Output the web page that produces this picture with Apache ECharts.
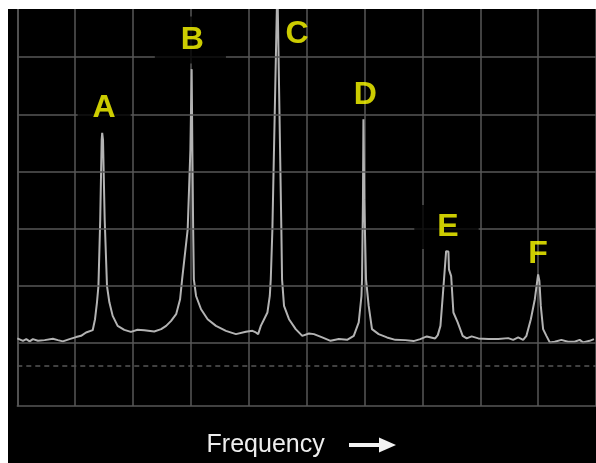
<!DOCTYPE html>
<html>
<head>
<meta charset="utf-8">
<script src="https://cdn.jsdelivr.net/npm/echarts@6/dist/echarts.min.js"></script>
<style>
html,body{margin:0;padding:0;background:#000;}
#chart{width:596px;height:463px;}
</style>
</head>
<body>
<div id="chart"></div>
<script>
// Frequency (divisions x10) and amplitude (divisions x10 above reference line)
const freq = [0,0.98,1.55,2.13,2.70,3.56,4.72,6.15,7.01,7.87,9.02,10.16,11.02,11.88,13.03,13.43,13.77,14.02,14.33,14.58,14.67,14.81,15.10,15.50,15.91,16.48,17.34,18.49,19.63,20.78,21.94,23.66,24.86,25.72,26.58,27.45,28.13,28.48,29.44,29.91,30.13,30.25,30.39,30.51,30.89,31.75,32.89,34.33,36.05,37.78,39.50,40.63,41.22,41.62,42.08,42.65,43.22,43.63,43.80,44.08,44.94,45.63,45.75,46.09,46.95,48.11,49.24,50.40,51.26,52.69,54.13,55.56,56.99,58.14,59.00,59.47,59.57,59.73,59.81,59.95,60.26,60.72,61.29,62.44,63.88,65.32,67.05,68.47,69.63,70.76,72.21,72.66,73.12,73.52,74.10,74.21,74.50,74.59,74.97,75.36,76.10,76.96,77.65,78.51,79.67,81.39,83.11,84.83,85.69,86.55,87.41,87.98,88.74,89.43,89.88,90.00,90.22,90.46,90.86,91.43,92.01,92.87,94.01,95.16,96.31,97.18,97.75,98.90,99.64];
const amp = [0.82,0.40,0.70,0.30,0.70,0.40,0.52,0.75,0.52,0.30,0.70,1.05,1.27,1.86,2.26,4.18,7.14,9.98,21.60,35.54,36.76,35.54,21.60,9.98,7.14,4.76,3.01,2.32,1.97,2.32,2.26,2.04,2.44,3.01,3.89,5.05,7.67,11.15,19.86,33.80,47.91,33.80,19.86,11.15,8.24,5.92,4.18,3.01,2.14,1.57,1.97,2.14,1.86,1.57,3.01,4.18,5.35,8.24,11.15,19.86,63.0,19.86,11.15,6.50,4.18,2.44,1.27,1.69,1.57,0.99,0.40,0.70,0.57,1.27,3.61,8.24,11.15,25.09,39.15,25.09,11.15,6.50,2.44,1.57,0.99,0.57,0.52,0.35,0.70,1.17,0.82,1.39,3.01,8.24,16.08,16.20,16.03,12.89,11.72,5.35,3.61,1.27,0.82,1.17,0.82,0.70,0.70,0.87,0.57,0.99,0.57,1.27,4.18,7.67,11.15,12.02,10.85,6.50,2.44,1.27,0.12,0.23,0.57,0.23,0.23,0.57,0.12,0.40,0.70];

const peakNames = ['A','B','C','D','E','F'];
const peakLabelX = [15.01,29.91,48.33,60.12,74.16,89.98];
const peakLabelY = [41.0,53.0,54.1,43.3,20.3,15.5];

const gridLevels = [0,10,20,30,40,50,60];
const dashedLevel = -4;

const gridColor = '#575757';
const labelPads = {
  A:[4,15,4,15],
  B:[4,22,11,26],
  E:[8,20,4,23]
};

const lineData = freq.map((f,i)=>[f,amp[i]]);
const labelData = peakNames.map((n,i)=>{
  const item = {name:n, value:[peakLabelX[i],peakLabelY[i]]};
  if (labelPads[n]) {
    item.label = {backgroundColor:'#000', padding:labelPads[n]};
  }
  return item;
});

const chart = echarts.init(document.getElementById('chart'));
chart.setOption({
  animation:false,
  backgroundColor:'#000',
  grid:{left:17.3, top:0, width:580.8, height:407},
  xAxis:{
    type:'value', min:0, max:100, interval:10,
    axisLabel:{show:false}, axisTick:{show:false},
    axisLine:{show:true, onZero:false, lineStyle:{color:gridColor, width:1.5}},
    splitLine:{show:true, lineStyle:{color:gridColor, width:1.5}},
    name:'Frequency', nameLocation:'middle', nameGap:27,
    nameTextStyle:{color:'#eeeeee', fontSize:25, fontFamily:'Liberation Sans', padding:[0,82,0,0]}
  },
  yAxis:{
    type:'value', min:-11, max:60,
    axisLabel:{show:false}, axisTick:{show:false},
    axisLine:{show:true, lineStyle:{color:gridColor, width:1.5}},
    splitLine:{show:false}
  },
  graphic:[
    {type:'line', shape:{x1:349, y1:445, x2:382, y2:445}, style:{stroke:'#f2f2f2', lineWidth:4}},
    {type:'polygon', shape:{points:[[379,437.5],[396,445],[379,452.5]]}, style:{fill:'#f2f2f2'}},
    {type:'rect', z:100, shape:{x:0,y:0,width:596,height:9}, style:{fill:'#fff'}},
    {type:'rect', z:100, shape:{x:0,y:0,width:8,height:463}, style:{fill:'#fff'}}
  ],
  series:[
    {
      type:'line', data:[], z:1, silent:true,
      markLine:{
        silent:true, symbol:'none', animation:false,
        label:{show:false},
        data:gridLevels.map(v=>({yAxis:v, lineStyle:{color:gridColor, width:1.5, type:'solid'}}))
          .concat([{yAxis:dashedLevel, lineStyle:{color:gridColor, width:1.5, type:[5,4]}}])
      }
    },
    {
      type:'line', data:lineData, z:3, symbol:'none', showSymbol:false, silent:true,
      clip:true,
      lineStyle:{color:'#b3b3b3', width:2}
    },
    {
      type:'scatter', data:labelData, z:5, symbolSize:0, silent:true,
      label:{show:true, position:'inside', formatter:'{b}', color:'#ffff00',
        fontSize:32, fontWeight:'bold', fontFamily:'Liberation Sans'}
    }
  ]
});
</script>
</body>
</html>
